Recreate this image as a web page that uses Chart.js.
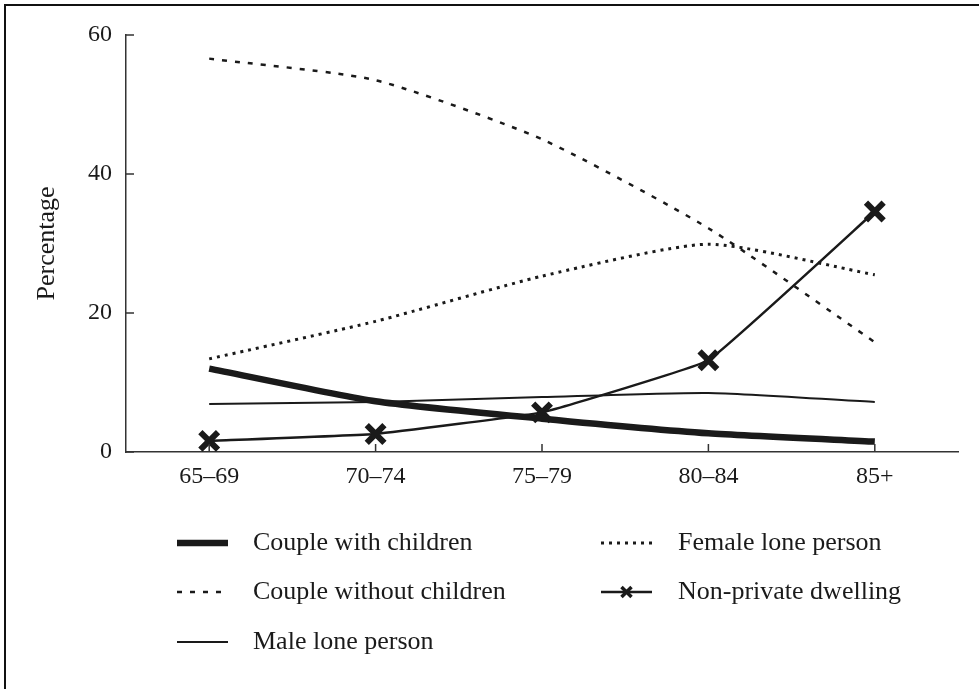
<!DOCTYPE html>
<html>
<head>
<meta charset="utf-8">
<script src="https://cdn.jsdelivr.net/npm/chart.js@4.4.1/dist/chart.umd.min.js"></script>
<style>
    html, body { margin: 0; padding: 0; background: #fff; }
    canvas { display: block; }
</style>
</head>
<body>
<canvas id="chart" width="979" height="689"></canvas>
<script>
const ageGroups = ['65–69', '70–74', '75–79', '80–84', '85+'];
const coupleWithChildren = [12.0, 7.3, 4.8, 2.7, 1.5];
const coupleWithoutChildren = [56.6, 53.5, 45.0, 32.2, 15.8];
const maleLonePerson = [6.9, 7.2, 7.9, 8.5, 7.2];
const femaleLonePerson = [13.4, 18.8, 25.3, 29.9, 25.5];
const nonPrivateDwelling = [1.6, 2.6, 5.7, 13.2, 34.6];
const yTicks = [0, 20, 40, 60];

const ink = '#1a1a1a';
const family = '"Liberation Serif", "DejaVu Serif", serif';
const tickFont = { family: family, size: 24 };
const titleFont = { family: family, size: 26 };
const legendSize = 26;

// short tick marks pointing into the plot, like the printed figure
const insideTicks = {
    id: 'insideTicks',
    afterDraw(chart) {
        const {ctx, scales: {x, y}} = chart;
        ctx.save();
        ctx.strokeStyle = '#333';
        ctx.lineWidth = 1.5;
        ctx.beginPath();
        ageGroups.forEach((g, i) => {
            const px = x.getPixelForValue(i);
            ctx.moveTo(px, y.bottom);
            ctx.lineTo(px, y.bottom - 8);
        });
        yTicks.forEach(v => {
            const py = y.getPixelForValue(v);
            ctx.moveTo(x.left, py);
            ctx.lineTo(x.left + 8, py);
        });
        ctx.stroke();
        ctx.restore();
    }
};

// frame: only top and left edges are visible
const frame = {
    id: 'frame',
    afterDraw(chart) {
        const ctx = chart.ctx;
        ctx.save();
        ctx.strokeStyle = '#111';
        ctx.lineWidth = 2;
        ctx.beginPath();
        ctx.moveTo(5, chart.height);
        ctx.lineTo(5, 5);
        ctx.lineTo(chart.width, 5);
        ctx.stroke();
        ctx.restore();
    }
};

// two-column legend under the plot
const legendBelow = {
    id: 'legendBelow',
    afterDraw(chart) {
        const ctx = chart.ctx;
        const cols = [{sample: 177, text: 253}, {sample: 601, text: 678}];
        const rows = [543, 592, 642];
        const sampleLen = 51;
        ctx.save();
        chart.data.datasets.forEach((ds, i) => {
            const col = cols[i < 3 ? 0 : 1];
            const y = rows[i % 3];
            ctx.strokeStyle = ink;
            ctx.lineWidth = ds.borderWidth;
            ctx.setLineDash(ds.borderDash || []);
            ctx.lineCap = 'butt';
            ctx.beginPath();
            ctx.moveTo(col.sample, y);
            ctx.lineTo(col.sample + sampleLen, y);
            ctx.stroke();
            ctx.setLineDash([]);
            if (ds.pointRadius) {
                const cx = col.sample + sampleLen / 2;
                const r = 5;
                ctx.lineWidth = 3.5;
                ctx.beginPath();
                ctx.moveTo(cx - r, y - r);
                ctx.lineTo(cx + r, y + r);
                ctx.moveTo(cx + r, y - r);
                ctx.lineTo(cx - r, y + r);
                ctx.stroke();
            }
            ctx.fillStyle = ink;
            ctx.font = `${legendSize}px ${family}`;
            ctx.textBaseline = 'middle';
            ctx.fillText(ds.label, col.text, y);
        });
        ctx.restore();
    }
};

const lineBase = {
    borderColor: ink,
    backgroundColor: ink,
    fill: false,
    pointRadius: 0,
    tension: 0.2,
};

const data = {
    labels: ageGroups,
    datasets: [
        {...lineBase, label: 'Couple with children', data: coupleWithChildren, borderWidth: 6.5},
        {...lineBase, label: 'Couple without children', data: coupleWithoutChildren, borderWidth: 2.5, borderDash: [5, 8]},
        {...lineBase, label: 'Male lone person', data: maleLonePerson, borderWidth: 2},
        {...lineBase, label: 'Female lone person', data: femaleLonePerson, borderWidth: 3, borderDash: [3, 5]},
        {
            ...lineBase,
            label: 'Non-private dwelling',
            data: nonPrivateDwelling,
            borderWidth: 2.5,
            tension: 0.08,
            pointStyle: 'crossRot',
            pointRadius: 12.5,
            pointBorderWidth: 6,
            pointBorderColor: ink,
        },
    ],
};

const options = {
    responsive: false,
    animation: false,
    devicePixelRatio: 1,
    layout: {
        padding: {top: 35, right: 21, left: 0, bottom: 0}
    },
    scales: {
        x: {
            offset: true,
            grid: {display: false, drawTicks: false},
            border: {color: '#333', width: 1.5},
            ticks: {font: tickFont, color: ink, padding: 10, maxRotation: 0},
            afterFit: (scale) => { scale.height = 237; },
        },
        y: {
            min: 0,
            max: 60,
            grid: {display: false, drawTicks: false},
            border: {color: '#333', width: 1.5},
            ticks: {stepSize: 20, font: tickFont, color: ink, padding: 14},
            title: {display: true, text: 'Percentage', font: titleFont, color: ink, padding: {top: 32, bottom: 0}},
            afterFit: (scale) => { scale.width = 126; },
        },
    },
    plugins: {
        legend: {display: false},
        tooltip: {enabled: false},
    },
};

new Chart(document.getElementById('chart'), {
    type: 'line',
    data: data,
    options: options,
    plugins: [insideTicks, frame, legendBelow],
});
</script>
</body>
</html>
